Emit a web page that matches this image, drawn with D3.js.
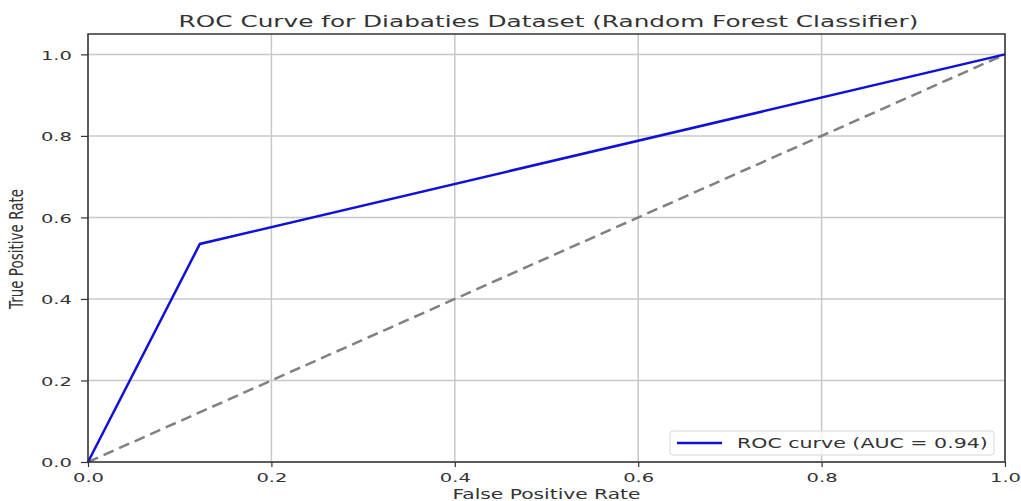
<!DOCTYPE html>
<html><head><meta charset="utf-8">
<script src="https://cdn.jsdelivr.net/npm/d3@7"></script>
<style>body{margin:0;background:#fff;} svg{display:block;}</style>
</head><body>
<svg id="c" width="1021" height="501"></svg>
<script>
const fpr = [0, 0.122, 1];
const tpr = [0, 0.535, 1];
const diagX = [0, 1];
const diagY = [0, 1];
const xTicks = [0, 0.2, 0.4, 0.6, 0.8, 1.0];
const yTicks = [0, 0.2, 0.4, 0.6, 0.8, 1.0];
const titleText = "ROC Curve for Diabaties Dataset (Random Forest Classifier)";
const xLabel = "False Positive Rate";
const yLabel = "True Positive Rate";
const legendText = "ROC curve (AUC = 0.94)";

const svg = d3.select("#c");
const L = 88, R = 1005, T = 34, B = 462;
const SX = 1.5; // horizontal stretch of the text in the reference
const x = d3.scaleLinear().domain([0, 1]).range([L, R]);
const y = d3.scaleLinear().domain([0, 1.05]).range([B, T]);
const font = "DejaVu Sans, sans-serif";
const txt = "#333";

// grid
const g = svg.append("g");
g.selectAll(".gx").data(xTicks).enter().append("line")
  .attr("x1", d => x(d)).attr("x2", d => x(d)).attr("y1", T).attr("y2", B)
  .attr("stroke", "#c8c8c8").attr("stroke-width", 1.5);
g.selectAll(".gy").data(yTicks).enter().append("line")
  .attr("y1", d => y(d)).attr("y2", d => y(d)).attr("x1", L).attr("x2", R)
  .attr("stroke", "#c8c8c8").attr("stroke-width", 1.5);

// diagonal
svg.append("path").datum(diagX.map((d, i) => [d, diagY[i]]))
  .attr("d", d3.line().x(d => x(d[0])).y(d => y(d[1])))
  .attr("fill", "none").attr("stroke", "#808080").attr("stroke-width", 2.5)
  .attr("stroke-dasharray", "11,6");

// ROC
svg.append("path").datum(fpr.map((d, i) => [d, tpr[i]]))
  .attr("d", d3.line().x(d => x(d[0])).y(d => y(d[1])))
  .attr("fill", "none").attr("stroke", "#1010d8").attr("stroke-width", 2.5);

// frame
svg.append("rect").attr("x", L).attr("y", T).attr("width", R - L).attr("height", B - T)
  .attr("fill", "none").attr("stroke", "#333").attr("stroke-width", 1.5);

// axes
const xa = svg.append("g").attr("transform", `translate(0,${B})`)
  .call(d3.axisBottom(x).tickValues(xTicks).tickFormat(d3.format(".1f")).tickSize(5).tickSizeOuter(0));
const ya = svg.append("g").attr("transform", `translate(${L},0)`)
  .call(d3.axisLeft(y).tickValues(yTicks).tickFormat(d3.format(".1f")).tickSize(7).tickSizeOuter(0));
[xa, ya].forEach(a => {
  a.select(".domain").remove();
  a.selectAll("line").attr("stroke", "#333").attr("stroke-width", 1.2);
  a.selectAll("text").attr("font-family", font).attr("font-size", 13).attr("fill", txt)
    .attr("transform", `scale(${SX},1)`);
});
xa.selectAll("text").attr("y", 20).attr("dy", 0);
ya.selectAll("text").attr("x", -10.7).attr("dy", "0.36em");

// title
svg.append("g").attr("transform", `translate(${(L + R) / 2 + 2},27) scale(${SX},1)`)
  .append("text").attr("text-anchor", "middle")
  .attr("font-family", font).attr("font-size", 16.5).attr("fill", txt).text(titleText);

// x label
svg.append("g").attr("transform", `translate(${(L + R) / 2},499) scale(${SX},1)`)
  .append("text").attr("text-anchor", "middle")
  .attr("font-family", font).attr("font-size", 13.5).attr("fill", txt).text(xLabel);

// y label
svg.append("g").attr("transform", `translate(23,${(T + B) / 2 + 1}) scale(${SX},1) rotate(-90)`)
  .append("text").attr("text-anchor", "middle").attr("font-family", font)
  .attr("font-size", 13.5).attr("fill", txt).text(yLabel);

// legend
const lg = svg.append("g");
lg.append("rect").attr("x", 670).attr("y", 431).attr("width", 324).attr("height", 24).attr("rx", 3)
  .attr("fill", "#fff").attr("fill-opacity", 0.8).attr("stroke", "#d6d6d6");
lg.append("line").attr("x1", 677).attr("x2", 722).attr("y1", 443).attr("y2", 443)
  .attr("stroke", "#1010d8").attr("stroke-width", 2.5);
lg.append("g").attr("transform", `translate(737,448) scale(${SX},1)`)
  .append("text").attr("font-family", font).attr("font-size", 13.7)
  .attr("fill", txt).text(legendText);
</script>
</body></html>
